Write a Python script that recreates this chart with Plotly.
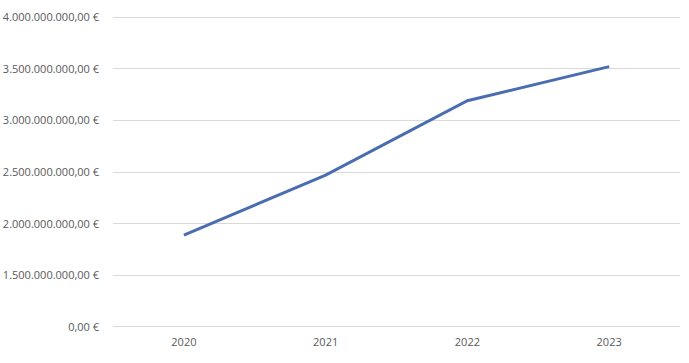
import plotly.graph_objects as go

years = ["2020", "2021", "2022", "2023"]
values = [1.89e9, 2.47e9, 3.19e9, 3.52e9]
tick_vals = [1.0e9, 1.5e9, 2.0e9, 2.5e9, 3.0e9, 3.5e9, 4.0e9]
tick_text = ["0,00 €", "1.500.000.000,00 €", "2.000.000.000,00 €", "2.500.000.000,00 €",
             "3.000.000.000,00 €", "3.500.000.000,00 €", "4.000.000.000,00 €"]

fig = go.Figure(go.Scatter(x=years, y=values, mode="lines",
                           line=dict(color="#4a6db0", width=3)))

fig.update_layout(
    width=689, height=363,
    margin=dict(l=113, r=9, t=16, b=35),
    paper_bgcolor="white", plot_bgcolor="white",
    showlegend=False,
    font=dict(family="Open Sans, Liberation Sans, sans-serif", size=11, color="#595959"),
)
fig.update_xaxes(type="category", range=[-0.5, 3.5], showgrid=False,
                 showline=False, automargin=False,
                 ticks="", ticklabelstandoff=6, tickfont=dict(size=11))
fig.update_yaxes(range=[0.99e9, 4.01e9], tickvals=tick_vals, ticktext=tick_text,
                 showgrid=True, gridcolor="#d9d9d9", gridwidth=1, zeroline=False,
                 showline=False, ticks="", ticklabelstandoff=13, automargin=False,
                 tickfont=dict(size=11))

fig.write_html("out.html",
               config={"displayModeBar": False},
               post_script="document.body.style.margin='0';document.body.style.overflow='hidden';")
